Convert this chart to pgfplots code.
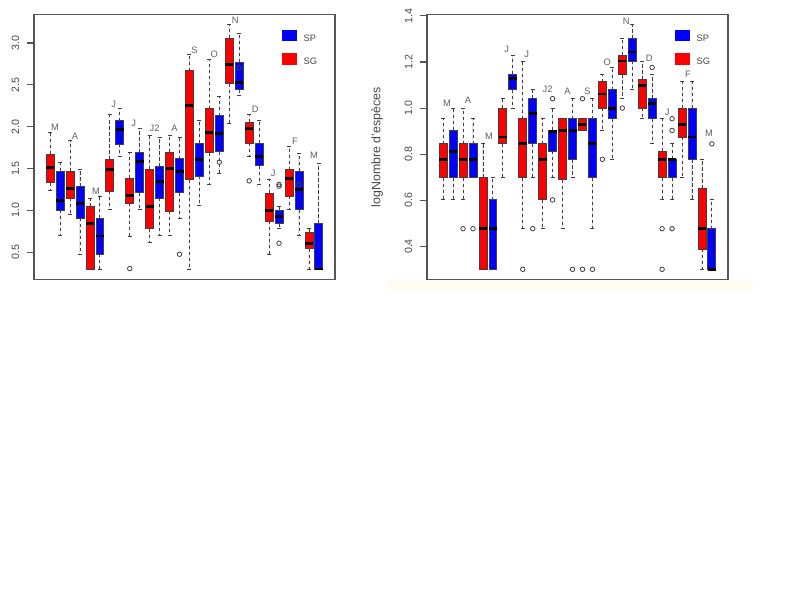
\documentclass[border=0pt]{standalone}
\usepackage{pgfplots}
\pgfplotsset{compat=1.18}
\usepgfplotslibrary{statistics}
\usepackage{pgfplotstable}
\usepackage{fontspec}
\setmainfont{Liberation Sans}

\definecolor{rred}{RGB}{255,0,0}
\definecolor{rblue}{RGB}{0,0,255}
\definecolor{framec}{RGB}{85,85,85}
\definecolor{txtc}{RGB}{70,70,70}
\definecolor{labc}{RGB}{95,95,95}
\definecolor{faint}{RGB}{255,252,242}

% outliers and month labels
\pgfplotstableread{
x  y
9  0.305
14 0.476
18 1.576
20 2.703
21 1.353
24 1.290
24 1.310
24 0.608
26 1.309
}\LOUT
\pgfplotstableread{
x    y     lab
1.5  1.997 M
3.5  1.889 A
5.6  1.232 M
7.4  2.272 J
9.4  2.045 J
11.5 1.985 J2
13.5 1.985 A
15.5 2.917 S
17.5 2.869 O
19.6 3.275 N
21.6 2.212 D
23.4 1.447 J
25.6 1.830 F
27.5 1.662 M
}\LLAB
\pgfplotstableread{
x  y
3  0.477
4  0.477
9  0.301
10 0.477
12 1.041
12 0.602
14 0.301
15 1.041
15 0.301
16 0.301
17 0.778
19 1.000
22 1.176
23 0.477
23 0.301
24 0.954
24 0.903
24 0.477
28 0.845
}\ROUT
\pgfplotstableread{
x    y     lab
1.4  1.023 M
3.5  1.032 A
5.6  0.876 M
7.4  1.253 J
9.4  1.231 J
11.5 1.080 J2
13.5 1.071 A
15.5 1.075 S
17.5 1.197 O
19.4 1.378 N
21.7 1.218 D
23.5 0.980 J
25.6 1.145 F
27.7 0.889 M
}\RLAB

% #1 style, #2 position, #3 lower whisker, #4 lower quartile, #5 median, #6 upper quartile, #7 upper whisker
\newcommand{\bp}[7]{\addplot[#1, boxplot prepared={draw position=#2, lower whisker=#3, lower quartile=#4, median=#5, upper quartile=#6, upper whisker=#7}] coordinates {};}

\pgfplotsset{
  boxplot/draw/whisker/.code 2 args={%
    \draw[/pgfplots/boxplot/every whisker/.try, dash pattern=on 2.4pt off 2.1pt]
      (boxplot cs:#1) -- (boxplot cs:#2);
    \draw[/pgfplots/boxplot/every whisker/.try, solid]
      (boxplot whisker cs:#2,0) -- (boxplot whisker cs:#2,1);
  },
  legend image code/.code={\fill[#1] (0pt,-1.8pt) rectangle (10.8pt,6.7pt);},
  rpanel/.style={
    scale only axis, width=225.75pt, height=198.4pt, anchor=south west,
    xmin=-0.62, xmax=29.62, xtick=\empty,
    tick align=outside, ytick pos=left, major tick length=5.6pt,
    axis line style={draw=framec, line width=0.8pt},
    every tick/.style={draw=framec, line width=0.8pt},
    yticklabel style={rotate=90, anchor=south, inner sep=0pt, font=\fontsize{8}{9.6}\selectfont, text=txtc},
    yticklabel shift=5.2pt,
    /pgf/number format/assume math mode=true,
    clip=false,
    boxplot/draw direction=y,
    boxplot/box extend=0.8,
    boxplot/whisker extend=0.4,
    boxplot/every median/.style={draw=black, line width=2.1pt},
    legend style={at={(0.825,0.943)}, anchor=north west, draw=none, fill=none,
      inner sep=0pt, outer sep=0pt, row sep=5.5pt, column sep=3.2pt,
      font=\fontsize{7}{8}\selectfont, text=txtc},
    legend cell align=left,
  },
  sg/.style={draw=black!75, line width=0.6pt, fill=rred},
  sp/.style={draw=black!75, line width=0.6pt, fill=rblue},
  outl/.style={only marks, mark=o, mark size=1.7pt, draw=black!75, mark options={solid, line width=0.6pt, fill=none}},
  labs/.style={only marks, mark=none, nodes near coords, point meta=explicit symbolic,
    every node near coord/.append style={anchor=center, font=\fontsize{7}{8}\selectfont, text=labc, inner sep=0pt}},
}

\begin{document}
\begin{tikzpicture}
\useasboundingbox (0,0) rectangle (600pt,450pt);
\fill[faint] (291pt,232.5pt) rectangle (564.75pt,240.4pt);

% ===== left =====
\begin{axis}[rpanel, at={(25.5pt,240.4pt)},
  ymin=0.175, ymax=3.335,
  ytick={0.5,1.0,1.5,2.0,2.5,3.0}, yticklabels={0.5,1.0,1.5,2.0,2.5,3.0}]
\addlegendimage{fill=rblue, draw=none}
\addlegendentry{SP}
\addlegendimage{fill=rred, draw=none}
\addlegendentry{SG}
\bp{sg}{1}{1.237}{1.333}{1.508}{1.671}{1.934}
\bp{sp}{2}{0.700}{1.002}{1.118}{1.468}{1.568}
\bp{sg}{3}{0.958}{1.149}{1.261}{1.468}{1.831}
\bp{sp}{4}{0.476}{0.906}{1.086}{1.285}{1.492}
\bp{sg}{5}{0.300}{0.300}{0.843}{1.046}{1.145}
\bp{sp}{6}{0.300}{0.476}{0.695}{0.906}{1.173}
\bp{sg}{7}{1.006}{1.229}{1.488}{1.608}{2.141}
\bp{sp}{8}{1.643}{1.791}{1.962}{2.070}{2.213}
\bp{sg}{9}{0.695}{1.086}{1.177}{1.384}{1.691}
\bp{sp}{10}{1.006}{1.213}{1.580}{1.690}{1.980}
\bp{sg}{11}{0.616}{0.779}{1.046}{1.492}{1.890}
\bp{sp}{12}{0.700}{1.145}{1.349}{1.523}{1.871}
\bp{sg}{13}{0.700}{0.990}{1.505}{1.695}{1.890}
\bp{sp}{14}{0.906}{1.213}{1.468}{1.616}{1.871}
\bp{sg}{15}{0.300}{1.369}{2.257}{2.667}{2.867}
\bp{sp}{16}{1.054}{1.408}{1.608}{1.803}{2.070}
\bp{sg}{17}{1.309}{1.691}{1.930}{2.213}{2.799}
\bp{sp}{18}{1.436}{1.699}{1.918}{2.129}{2.361}
\bp{sg}{19}{2.042}{2.512}{2.739}{3.058}{3.221}
\bp{sp}{20}{2.373}{2.440}{2.532}{2.767}{3.110}
\bp{sg}{21}{1.651}{1.803}{1.982}{2.054}{2.141}
\bp{sp}{22}{1.313}{1.532}{1.643}{1.803}{2.070}
\bp{sg}{23}{0.480}{0.871}{0.998}{1.205}{1.365}
\bp{sp}{24}{0.779}{0.843}{0.926}{0.998}{1.046}
\bp{sg}{25}{1.006}{1.169}{1.380}{1.484}{1.763}
\bp{sp}{26}{0.700}{1.006}{1.245}{1.468}{1.675}
\bp{sg}{27}{0.300}{0.544}{0.608}{0.739}{0.779}
\bp{sp}{28}{0.300}{0.300}{0.300}{0.843}{1.556}
\addplot[outl] table[x=x, y=y] {\LOUT};
\addplot[labs] table[x=x, y=y, meta=lab] {\LLAB};
\end{axis}

% ===== right =====
\begin{axis}[rpanel, at={(320.25pt,240.4pt)},
  ymin=0.257, ymax=1.404,
  ytick={0.4,0.6,0.8,1.0,1.2,1.4}, yticklabels={0.4,0.6,0.8,1.0,1.2,1.4},
  ylabel={logNombre d'espèces},
  ylabel style={at={(axis description cs:-0.166,0.5)}, anchor=center, font=\fontsize{9.3}{11}\selectfont, text=txtc}]
\addlegendimage{fill=rblue, draw=none}
\addlegendentry{SP}
\addlegendimage{fill=rred, draw=none}
\addlegendentry{SG}
\bp{sg}{1}{0.602}{0.699}{0.778}{0.845}{0.954}
\bp{sp}{2}{0.602}{0.699}{0.813}{0.903}{1.000}
\bp{sg}{3}{0.602}{0.699}{0.778}{0.845}{1.000}
\bp{sp}{4}{0.699}{0.699}{0.778}{0.845}{0.954}
\bp{sg}{5}{0.301}{0.301}{0.477}{0.699}{0.845}
\bp{sp}{6}{0.301}{0.301}{0.477}{0.602}{0.699}
\bp{sg}{7}{0.699}{0.845}{0.875}{1.000}{1.041}
\bp{sp}{8}{1.000}{1.079}{1.130}{1.146}{1.230}
\bp{sg}{9}{0.477}{0.699}{0.845}{0.954}{1.204}
\bp{sp}{10}{0.699}{0.845}{0.978}{1.041}{1.079}
\bp{sg}{11}{0.477}{0.602}{0.778}{0.845}{0.954}
\bp{sp}{12}{0.699}{0.813}{0.900}{0.903}{1.000}
\bp{sg}{13}{0.477}{0.690}{0.903}{0.954}{0.954}
\bp{sp}{14}{0.699}{0.778}{0.903}{0.954}{1.041}
\bp{sg}{15}{0.903}{0.903}{0.928}{0.954}{0.954}
\bp{sp}{16}{0.477}{0.699}{0.845}{0.954}{1.041}
\bp{sg}{17}{0.903}{1.000}{1.061}{1.114}{1.146}
\bp{sp}{18}{0.778}{0.954}{1.000}{1.079}{1.176}
\bp{sg}{19}{1.041}{1.146}{1.204}{1.230}{1.301}
\bp{sp}{20}{1.079}{1.204}{1.243}{1.301}{1.362}
\bp{sg}{21}{0.954}{1.000}{1.097}{1.124}{1.204}
\bp{sp}{22}{0.845}{0.954}{1.021}{1.041}{1.146}
\bp{sg}{23}{0.602}{0.699}{0.778}{0.813}{0.954}
\bp{sp}{24}{0.602}{0.699}{0.778}{0.778}{0.845}
\bp{sg}{25}{0.699}{0.875}{0.928}{1.000}{1.114}
\bp{sp}{26}{0.602}{0.778}{0.875}{1.000}{1.114}
\bp{sg}{27}{0.301}{0.389}{0.477}{0.651}{0.778}
\bp{sp}{28}{0.301}{0.301}{0.301}{0.477}{0.602}
\addplot[outl] table[x=x, y=y] {\ROUT};
\addplot[labs] table[x=x, y=y, meta=lab] {\RLAB};
\end{axis}
\end{tikzpicture}
\end{document}
